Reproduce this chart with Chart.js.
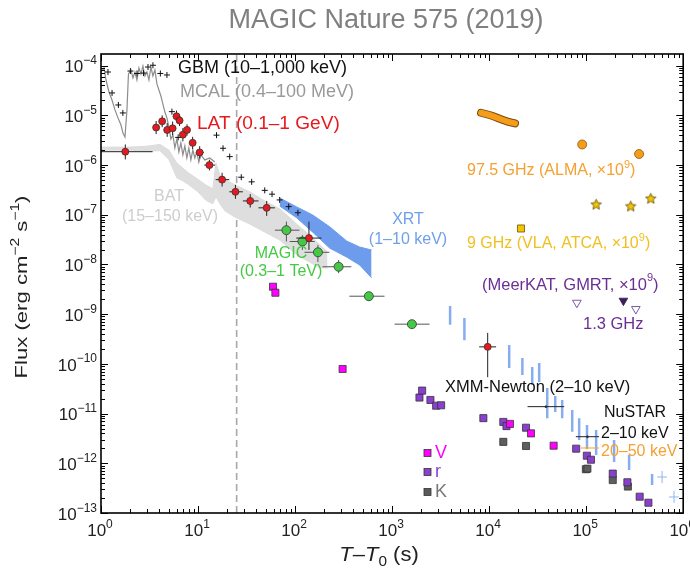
<!DOCTYPE html>
<html lang="en">
<head>
<meta charset="UTF-8">
<title>MAGIC Nature 575 (2019)</title>
<script src="https://cdn.jsdelivr.net/npm/chart.js@4.4.0/dist/chart.umd.min.js"></script>
<style>
  body { margin: 0; background: #fff; }
  #wrap { width: 690px; height: 571px; }
</style>
</head>
<body>
<div id="wrap"><canvas id="lc" width="690" height="571"></canvas></div>
<script>
// ---- data (time since T0 in s, flux in erg cm^-2 s^-1) ----
const latT   = [1.78, 3.7, 4.27, 4.81, 5.47, 6.0, 6.45, 6.98, 7.7, 8.8, 10.4, 13.1, 17.7, 24.3, 34.5, 51, 139, 9660];
const latF   = [1.86e-6, 5.7e-6, 7.6e-6, 5.1e-6, 5.5e-6, 9.6e-6, 7.9e-6, 4.1e-6, 5.1e-6, 2.8e-6, 1.8e-6, 1.0e-6, 5.1e-7, 2.9e-7, 1.9e-7, 1.38e-7, 3.4e-8, 2.2e-10];
const latTlo = [1.0, 3.45, 4.0, 4.55, 5.15, 5.8, 6.2, 6.7, 7.3, 8.2, 9.5, 11.6, 15.2, 21, 29, 42, 103, 7900];
const latThi = [3.4, 4.0, 4.55, 5.1, 5.8, 6.2, 6.7, 7.3, 8.2, 9.5, 11.5, 15, 21, 29, 42, 62, 187, 11800];
const latFlo = [1.3e-6, 4.2e-6, 5.8e-6, 3.7e-6, 4.0e-6, 7.4e-6, 6.1e-6, 3.0e-6, 3.9e-6, 2.1e-6, 1.35e-6, 7.8e-7, 3.7e-7, 2.1e-7, 1.4e-7, 9.5e-8, 1.96e-8, 5.4e-11];
const latFhi = [2.6e-6, 7.7e-6, 1.0e-5, 7.0e-6, 7.5e-6, 1.25e-5, 1.0e-5, 5.6e-6, 6.6e-6, 3.7e-6, 2.4e-6, 1.28e-6, 7.0e-7, 4.0e-7, 2.6e-7, 1.9e-7, 7.3e-8, 4.2e-10];

const magicT   = [81.4, 119, 172, 281, 576, 1600];
const magicF   = [4.9e-8, 2.9e-8, 1.76e-8, 9.0e-9, 2.3e-9, 6.3e-10];
const magicTlo = [62, 88, 125, 192, 363, 1060];
const magicThi = [111, 159, 226, 380, 835, 2430];
const magicFlo = [2.9e-8, 1.96e-8, 1.12e-8, 6.7e-9, 1.9e-9, 5.5e-10];
const magicFhi = [7.3e-8, 3.9e-8, 2.47e-8, 1.23e-8, 2.8e-9, 7.2e-10];

const gbmT = [1.18, 1.30, 1.51, 1.68, 2.01, 2.35, 2.74, 3.05, 3.43, 4.09, 4.78, 5.38, 6.09, 6.24, 15.5, 18.1, 21.2, 27.9, 35.7, 48.7, 57.9, 69.4, 86, 107];
const gbmF = [7.46e-5, 2.83e-5, 1.62e-5, 1.12e-5, 7.8e-5, 6.97e-5, 7.1e-5, 9.4e-5, 1.02e-4, 6.97e-5, 6.5e-5, 1.19e-5, 9.4e-6, 3.6e-6, 4.0e-6, 2.18e-6, 1.48e-6, 5.7e-7, 4.6e-7, 3.1e-7, 2.6e-7, 1.99e-7, 1.46e-7, 1.1e-7];

const mcalT = [1.0, 1.074, 1.126, 1.209, 1.298, 1.393, 1.496, 1.606, 1.684, 1.766, 1.851, 1.919, 2.035, 2.134, 2.238, 2.346, 2.46, 2.579, 2.705, 2.836, 2.974, 3.118, 3.269, 3.428, 3.594, 3.769, 3.952, 4.143, 4.345, 4.555, 4.776, 5.008, 5.251, 5.505, 5.772, 6.052, 6.346, 6.653, 6.976, 7.315, 7.669, 8.041, 8.431, 8.84, 9.27, 9.72, 10.19, 10.69, 11.75, 13.22, 14.89];
const mcalF = [7.46e-5, 9.0e-5, 5.15e-5, 2.96e-5, 2.04e-5, 1.29e-5, 8.9e-6, 6.4e-6, 4.4e-6, 3.67e-6, 1.29e-5, 6.8e-5, 8.2e-5, 5.7e-5, 7.46e-5, 5.15e-5, 9.0e-5, 6.8e-5, 9.9e-5, 6.2e-5, 7.46e-5, 5.15e-5, 9.4e-5, 6.2e-5, 8.2e-5, 4.3e-5, 3.24e-5, 2.45e-5, 1.69e-5, 1.17e-5, 8.9e-6, 5.85e-6, 3.35e-6, 4.04e-6, 2.21e-6, 3.35e-6, 1.84e-6, 2.79e-6, 1.6e-6, 2.42e-6, 1.39e-6, 2.21e-6, 1.27e-6, 2.01e-6, 1.39e-6, 1.84e-6, 1.15e-6, 1.6e-6, 1.27e-6, 1.39e-6, 1.15e-6];

const batT  = [1.0, 1.99, 2.97, 4.05, 5.0, 6.05, 6.98, 8.04, 9.95, 12.0, 14.2, 15.3, 16.8, 18.9, 23.9, 34.1, 48.7, 69.5, 104, 141, 179, 216];
const batHi = [2.3e-6, 2.3e-6, 2.4e-6, 2.6e-6, 2.01e-6, 1.1e-6, 8.7e-7, 6.9e-7, 5.2e-7, 4.0e-7, 3.33e-7, 1.1e-6, 6.3e-7, 5.2e-7, 4.0e-7, 2.9e-7, 1.9e-7, 1.32e-7, 6.5e-8, 3.9e-8, 2.5e-8, 1.79e-8];
const batLo = [2.0e-6, 2.0e-6, 1.9e-6, 1.95e-6, 1.3e-6, 5.5e-7, 4.8e-7, 4.0e-7, 2.9e-7, 1.97e-7, 1.66e-7, 2.3e-7, 1.66e-7, 1.2e-7, 9.0e-8, 6.5e-8, 4.5e-8, 3.1e-8, 1.55e-8, 1.12e-8, 8.5e-9, 8.5e-9];

const xrtT  = [69.5, 104, 152, 227, 340, 462, 614];
const xrtHi = [2.18e-7, 1.44e-7, 9.9e-8, 5.75e-8, 2.97e-8, 2.25e-8, 1.96e-8];
const xrtLo = [1.5e-7, 8.7e-8, 4.47e-8, 2.14e-8, 1.41e-8, 9.8e-9, 5.4e-9];

const xrtLateT  = [3960, 5560, 16100, 22000, 27800, 32800, 39700, 48000, 56600, 71800, 84700, 102000, 126700, 194000, 277000, 478000];
const xrtLateHi = [1.46e-9, 8.4e-10, 2.4e-10, 1.31e-10, 8.7e-11, 1.04e-10, 3.27e-11, 2.26e-11, 1.88e-11, 1.18e-11, 8.1e-12, 5.9e-12, 4.7e-12, 2.94e-12, 1.47e-12, 6.1e-13];
const xrtLateLo = [6.1e-10, 3.0e-10, 8.3e-11, 6.0e-11, 3.76e-11, 4.3e-11, 8.1e-12, 1.08e-11, 8.1e-12, 4.3e-12, 2.94e-12, 2.03e-12, 1.47e-12, 1.06e-12, 7.3e-13, 3.66e-13];

const xrtCrossT = [606000, 804000], xrtCrossF = [5.3e-13, 2.1e-13];
const xrtCrossTlo = [540000, 715000], xrtCrossThi = [680000, 900000];
const xrtCrossFlo = [4.0e-13, 1.6e-13], xrtCrossFhi = [7.0e-13, 2.8e-13];

const vT = [59.3, 62.7, 309, 16400, 27000, 46200];
const vF = [3.57e-9, 2.7e-9, 7.9e-11, 6.2e-12, 4.0e-12, 2.26e-12];
const rT = [1914, 2040, 2483, 2843, 3200, 8720, 14000, 15100, 24000, 78900, 101600, 112000, 188000, 266000, 356000, 438000];
const rF = [2.1e-11, 2.9e-11, 1.88e-11, 1.44e-11, 1.47e-11, 8.1e-12, 6.8e-12, 5.6e-12, 5.2e-12, 1.97e-12, 1.42e-12, 1.18e-12, 6.2e-13, 4.15e-13, 2.13e-13, 1.61e-13];
const kT = [14000, 24000, 99300, 103000, 188000, 269000];
const kF = [2.7e-12, 2.23e-12, 7.6e-13, 7.8e-13, 4.6e-13, 3.4e-13];

const almaBandT = [8260, 10870, 13250, 15500, 18500];
const almaBandF = [1.13e-5, 9.7e-6, 8.35e-6, 7.5e-6, 6.9e-6];
const almaT = [91000, 351000], almaF = [2.6e-6, 1.67e-6];
const vlaSqT = [21300], vlaSqF = [5.3e-8];
const vlaStarT = [126800, 288000, 463000], vlaStarF = [1.63e-7, 1.5e-7, 2.15e-7];
const meerOpenT = [80200, 325000], meerOpenF = [1.7e-9, 1.27e-9];
const meerT = [242000], meerF = [1.87e-9];

const xmmT = [38500], xmmF = [1.38e-11], xmmTlo = [24900], xmmThi = [59400];
const nuHardT = [103000], nuHardF = [3.43e-12], nuHardTlo = [78300], nuHardThi = [135800];
const nuSoftT = [102000], nuSoftF = [2.03e-12], nuSoftTlo = [88200], nuSoftThi = [135800];

const startT = [25, 25];
const xMin = 1, xMax = 1e6, yMin = 1e-13, yMax = Math.pow(10, -3.765);
const xDecades = [0, 1, 2, 3, 4, 5, 6];
const yDecades = [-13, -12, -11, -10, -9, -8, -7, -6, -5, -4];

// ---- helpers ----
const pts = (t, f) => t.map((v, i) => ({ x: v, y: f[i] }));
const FONT = '"Liberation Sans", Arial, Helvetica, sans-serif';

function starImg(size, fill, stroke) {
  const c = document.createElement('canvas');
  c.width = c.height = size;
  const g = c.getContext('2d');
  const cx = size / 2, cy = size / 2 + 0.5, r = size / 2 - 1, ri = r * 0.45;
  g.beginPath();
  for (let i = 0; i < 10; i++) {
    const a = -Math.PI / 2 + i * Math.PI / 5, rr = i % 2 ? ri : r;
    g.lineTo(cx + rr * Math.cos(a), cy + rr * Math.sin(a));
  }
  g.closePath();
  g.fillStyle = fill; g.fill();
  g.strokeStyle = stroke; g.lineWidth = 0.8; g.stroke();
  return c;
}

// text with super/subscripts; sx stretches it along its direction
function drawRich(ctx, parts, x, y, size, color, align, sx) {
  sx = sx || 1;
  const small = Math.round(size * 0.68);
  const fontOf = k => (k === 'i' ? 'italic ' : '') + (k === 's' || k === 'b' ? small : size) + 'px ' + FONT;
  let w = 0;
  parts.forEach(p => { ctx.font = fontOf(p[1]); w += ctx.measureText(p[0]).width; });
  const x0 = align === 'center' ? x - w * sx / 2 : align === 'right' ? x - w * sx : x;
  ctx.save();
  ctx.translate(x0, y);
  ctx.scale(sx, 1);
  ctx.fillStyle = color;
  ctx.textAlign = 'left';
  ctx.textBaseline = 'middle';
  let cx = 0;
  parts.forEach(p => {
    ctx.font = fontOf(p[1]);
    const dy = p[1] === 's' ? -size * 0.4 : p[1] === 'b' ? size * 0.35 : 0;
    ctx.fillText(p[0], cx, dy);
    cx += ctx.measureText(p[0]).width;
  });
  ctx.restore();
}

// text labels placed on the figure
const labels = [
  { p: [['GBM (10–1,000 keV)']], x: 178, y: 68, c: '#111', s: 18 },
  { p: [['MCAL (0.4–100 MeV)']], x: 180, y: 92, c: '#9a9a9a', s: 18 },
  { p: [['LAT (0.1–1 GeV)']], x: 197, y: 124, c: '#e8191e', s: 18, sx: 1.06 },
  { p: [['BAT']], x: 169, y: 197, c: '#cdcdcd', a: 'center' },
  { p: [['(15–150 keV)']], x: 170, y: 217, c: '#cdcdcd', a: 'center' },
  { p: [['XRT']], x: 408, y: 220, c: '#6f9fea', a: 'center' },
  { p: [['(1–10 keV)']], x: 408, y: 240, c: '#6f9fea', a: 'center' },
  { p: [['MAGIC']], x: 281, y: 254, c: '#45c845', a: 'center' },
  { p: [['(0.3–1 TeV)']], x: 281, y: 272, c: '#45c845', a: 'center' },
  { p: [['97.5 GHz (ALMA, ×10'], ['9', 's'], [')']], x: 467, y: 171, c: '#f5a030' },
  { p: [['9 GHz (VLA, ATCA, ×10'], ['9', 's'], [')']], x: 467, y: 244, c: '#f0c020' },
  { p: [['(MeerKAT, GMRT, ×10'], ['9', 's'], [')']], x: 482, y: 285, c: '#6b2f94', s: 16.5 },
  { p: [['1.3 GHz']], x: 583, y: 324, c: '#6b2f94', s: 16.5 },
  { p: [['XMM-Newton (2–10 keV)']], x: 445, y: 387, c: '#111', s: 16.5 },
  { p: [['NuSTAR']], x: 604, y: 413, c: '#111' },
  { p: [['2–10 keV']], x: 601, y: 434, c: '#111' },
  { p: [['20–50 keV']], x: 601, y: 452, c: '#f5a030' }
];
const optLegend = [
  { t: 'V', c: '#ff00ff', tc: '#ff00ff', y: 453 },
  { t: 'r', c: '#8a3fd1', tc: '#8a3fd1', y: 472 },
  { t: 'K', c: '#5a5a5a', tc: '#777', y: 492 }
];

// error bars: drawn right before the owning dataset
const errBars = {
  id: 'errBars',
  beforeDatasetDraw(chart, args) {
    const ds = chart.data.datasets[args.index];
    if (!ds.err) return;
    const { ctx, scales: { x, y } } = chart;
    const e = ds.err;
    ctx.save();
    ctx.strokeStyle = ds.errColor || '#222';
    ctx.lineWidth = 1;
    ds.data.forEach((p, i) => {
      const px = x.getPixelForValue(p.x), py = y.getPixelForValue(p.y);
      ctx.beginPath();
      if (e.xlo) { ctx.moveTo(x.getPixelForValue(e.xlo[i]), py); ctx.lineTo(x.getPixelForValue(e.xhi[i]), py); }
      if (e.ylo) { ctx.moveTo(px, y.getPixelForValue(e.ylo[i])); ctx.lineTo(px, y.getPixelForValue(e.yhi[i])); }
      ctx.stroke();
    });
    ctx.restore();
  }
};

// frame, inward ticks, tick labels, titles and text labels
const frame = {
  id: 'frame',
  afterDraw(chart) {
    const { ctx, chartArea: a, scales: { x, y } } = chart;
    ctx.save();
    ctx.strokeStyle = '#000';
    ctx.lineWidth = 1;
    ctx.beginPath();
    xDecades.forEach(d => {
      for (let m = 1; m <= 9; m++) {
        const v = m * Math.pow(10, d);
        if (v > xMax) break;
        const px = Math.round(x.getPixelForValue(v)) + 0.5, len = m === 1 ? 7 : 4;
        ctx.moveTo(px, a.bottom); ctx.lineTo(px, a.bottom - len);
        ctx.moveTo(px, a.top); ctx.lineTo(px, a.top + len);
      }
    });
    yDecades.forEach(d => {
      for (let m = 1; m <= 9; m++) {
        const v = m * Math.pow(10, d);
        if (v > yMax) break;
        const py = Math.round(y.getPixelForValue(v)) + 0.5, len = m === 1 ? 7 : 4;
        ctx.moveTo(a.left, py); ctx.lineTo(a.left + len, py);
        ctx.moveTo(a.right, py); ctx.lineTo(a.right - len, py);
      }
    });
    ctx.stroke();
    ctx.lineWidth = 1.6;
    ctx.strokeRect(a.left, a.top, a.right - a.left, a.bottom - a.top);

    xDecades.forEach(d => {
      drawRich(ctx, [['10'], [String(d), 's']], x.getPixelForValue(Math.pow(10, d)) - 1, 531, 17, '#222', 'center');
    });
    yDecades.forEach(d => {
      drawRich(ctx, [['10'], ['−' + String(-d), 's']], 97, y.getPixelForValue(Math.pow(10, d)) + 2, 17, '#222', 'right');
    });

    drawRich(ctx, [['T', 'i'], ['–'], ['T', 'i'], ['0', 'b'], [' (s)']], 379, 555, 20, '#222', 'center', 1.1);
    ctx.save();
    ctx.translate(22, 287);
    ctx.rotate(-Math.PI / 2);
    drawRich(ctx, [['Flux (erg cm'], ['−2', 's'], [' s'], ['−1', 's'], [')']], 0, 0, 17, '#222', 'center', 1.3);
    ctx.restore();

    ctx.font = '27px ' + FONT;
    ctx.fillStyle = '#808080';
    ctx.textAlign = 'center';
    ctx.textBaseline = 'middle';
    ctx.fillText('MAGIC Nature 575 (2019)', 386, 21);

    labels.forEach(l => drawRich(ctx, l.p, l.x, l.y, l.s || 16, l.c, l.a || 'left', l.sx));
    optLegend.forEach(o => {
      ctx.fillStyle = o.c; ctx.strokeStyle = '#333'; ctx.lineWidth = 0.8;
      ctx.fillRect(424, o.y - 3.5, 7, 7); ctx.strokeRect(424, o.y - 3.5, 7, 7);
      drawRich(ctx, [[o.t]], 435, o.y, 18, o.tc, 'left');
    });
    ctx.restore();
  }
};

const marker = (label, data, style, color, radius, extra) => Object.assign({
  label, data, type: 'scatter', pointStyle: style, pointRadius: radius,
  backgroundColor: color, borderColor: '#333', borderWidth: 0.8
}, extra || {});

const datasets = [
  marker('LAT', pts(latT, latF), 'circle', '#e8191e', 3.5, { err: { xlo: latTlo, xhi: latThi, ylo: latFlo, yhi: latFhi }, errColor: '#222' }),
  marker('MAGIC', pts(magicT, magicF), 'circle', '#45c845', 4.5, { err: { xlo: magicTlo, xhi: magicThi, ylo: magicFlo, yhi: magicFhi }, errColor: '#555' }),
  marker('V', pts(vT, vF), 'rect', '#ff00ff', 5),
  marker('r', pts(rT, rF), 'rect', '#8a3fd1', 5),
  marker('K', pts(kT, kF), 'rect', '#5e5e5e', 5),
  marker('ALMA', pts(almaT, almaF), 'circle', '#f59d1b', 4.5, { borderColor: '#8a5a10' }),
  marker('VLA', pts(vlaSqT, vlaSqF), 'rect', '#f5c400', 5, { borderColor: '#6a5400' }),
  marker('ATCA', pts(vlaStarT, vlaStarF), starImg(13, '#f5c400', '#5a4800'), '#f5c400', 6),
  marker('GMRT', pts(meerOpenT, meerOpenF), 'triangle', '#fff', 5, { rotation: 180, borderColor: '#7a5aa8', borderWidth: 1 }),
  marker('MeerKAT', pts(meerT, meerF), 'triangle', '#3a1f5c', 5, { rotation: 180, borderColor: '#3a1f5c' }),
  marker('XMM', pts(xmmT, xmmF), 'circle', '#222', 1, { err: { xlo: xmmTlo, xhi: xmmThi }, errColor: '#222' }),
  marker('NuSTAR hard', pts(nuHardT, nuHardF), 'circle', '#222', 1, { err: { xlo: nuHardTlo, xhi: nuHardThi }, errColor: '#222' }),
  marker('NuSTAR soft', pts(nuSoftT, nuSoftF), 'circle', '#f5a030', 1, { borderColor: '#f5a030', err: { xlo: nuSoftTlo, xhi: nuSoftThi }, errColor: '#f5a030' }),
  marker('XRT late', pts(xrtCrossT, xrtCrossF), 'circle', '#7aa6ee', 0, { err: { xlo: xrtCrossTlo, xhi: xrtCrossThi, ylo: xrtCrossFlo, yhi: xrtCrossFhi }, errColor: '#8fb4f0' }),
  marker('GBM', pts(gbmT, gbmF), 'cross', '#111', 3, { borderColor: '#111', borderWidth: 1 }),
  { label: 'ALMA band', type: 'line', data: pts(almaBandT, almaBandF), borderColor: '#f59d1b', borderWidth: 6,
    borderCapStyle: 'round', borderJoinStyle: 'round', tension: 0.3, pointRadius: 0, fill: false },
  { label: 'ALMA band edge', type: 'line', data: pts(almaBandT, almaBandF), borderColor: '#7a4c08', borderWidth: 8,
    borderCapStyle: 'round', borderJoinStyle: 'round', tension: 0.3, pointRadius: 0, fill: false },
  { label: 'XRT segments', type: 'line', spanGaps: false, pointRadius: 0, borderColor: '#86adf0', borderWidth: 2.5, fill: false,
    data: xrtLateT.flatMap((t, i) => [{ x: t, y: xrtLateHi[i] }, { x: t, y: xrtLateLo[i] }, { x: t, y: null }]) },
  { label: 'XRT hi', type: 'line', data: pts(xrtT, xrtHi), borderColor: '#6d9cec', backgroundColor: '#6d9cec',
    borderWidth: 1, pointRadius: 0, fill: '+1' },
  { label: 'XRT lo', type: 'line', data: pts(xrtT, xrtLo), borderColor: '#6d9cec', borderWidth: 1, pointRadius: 0, fill: false },
  { label: 'MCAL', type: 'line', data: pts(mcalT, mcalF), borderColor: '#8d8d8d', borderWidth: 1.2, pointRadius: 0, fill: false },
  { label: 'BAT hi', type: 'line', data: pts(batT, batHi), borderColor: '#dcdcdc', backgroundColor: '#dedede',
    borderWidth: 1, pointRadius: 0, fill: '+1' },
  { label: 'BAT lo', type: 'line', data: pts(batT, batLo), borderColor: '#dcdcdc', borderWidth: 1, pointRadius: 0, fill: false },
  { label: 'T0+25 s', type: 'line', data: pts(startT, [yMin, yMax]), borderColor: '#a8a8a8', borderWidth: 1.6,
    borderDash: [7, 4], pointRadius: 0, fill: false }
];

new Chart(document.getElementById('lc'), {
  type: 'scatter',
  data: { datasets },
  options: {
    responsive: false,
    animation: false,
    devicePixelRatio: 1,
    layout: { padding: { left: 101, right: 6, top: 54, bottom: 58 } },
    scales: {
      x: { type: 'logarithmic', min: xMin, max: xMax, display: false },
      y: { type: 'logarithmic', min: yMin, max: yMax, display: false }
    },
    plugins: { legend: { display: false }, tooltip: { enabled: false } }
  },
  plugins: [errBars, frame]
});
</script>
</body>
</html>
